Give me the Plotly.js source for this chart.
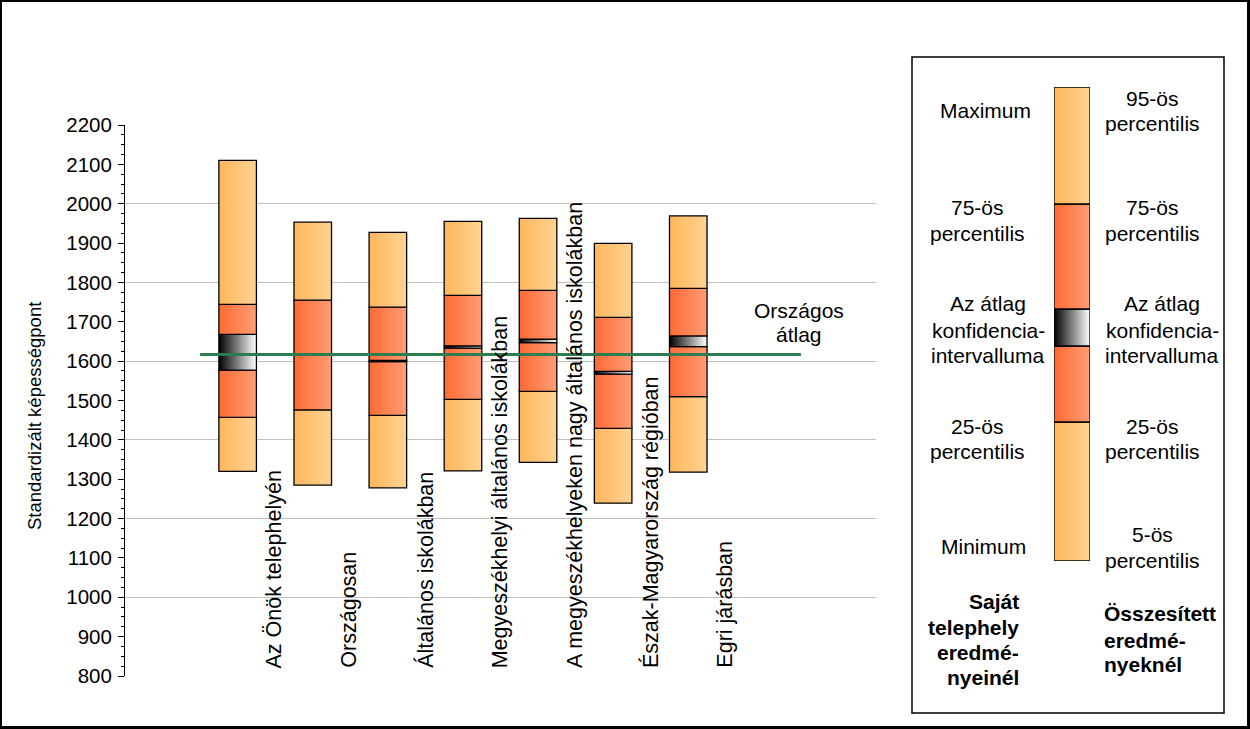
<!DOCTYPE html>
<html>
<head>
<meta charset="utf-8">
<script src="https://cdn.plot.ly/plotly-3.0.1.min.js"></script>
<style>
  body { margin: 0; background: #fff; }
  #wrap { position: relative; width: 1250px; height: 729px; }
  #chart { width: 1250px; height: 729px; }
  #frame { position: absolute; left: 0; top: 0; width: 1250px; height: 729px; box-sizing: border-box;
           border: 2px solid #000; border-right-width: 3px; border-bottom-width: 3px; pointer-events: none; }
</style>
</head>
<body>
<div id="wrap">
  <div id="chart"></div>
  <div id="frame"></div>
</div>
<script>
// ---------------- DATA ----------------
const categories = [
  "Az Önök telephelyén",
  "Országosan",
  "Általános iskolákban",
  "Megyeszékhelyi általános iskolákban",
  "A megyeszékhelyeken nagy általános iskolákban",
  "Észak-Magyarország régióban",
  "Egri járásban"
];
const minVals  = [1320, 1285, 1278, 1321, 1343, 1239, 1318];
const p25Vals  = [1457, 1476, 1462, 1503, 1523, 1429, 1510];
const ciLow    = [1577, 1615, 1599, 1633, 1647, 1567, 1637];
const ciHigh   = [1668, 1619, 1602, 1639, 1656, 1574, 1664];
const p75Vals  = [1744, 1755, 1737, 1767, 1780, 1711, 1785];
const maxVals  = [2110, 1953, 1927, 1955, 1963, 1899, 1969];
const nationalAvg = 1617;
const nationalLineX = [-0.5, 7.5];
const yTitle = "Standardizált képességpont";

// legend (schematic bar) boundaries, bottom to top
const legendBounds = [0, 139, 215, 252, 357, 474];

// legend text lines: [text, x centre/edge px, y px]
const legLeftLines = [
  ["Maximum", 986, 110.7],
  ["75-ös", 977, 207.5], ["percentilis", 977, 233],
  ["Az átlag", 988, 304], ["konfidencia-", 988, 330], ["intervalluma", 988, 355],
  ["25-ös", 977, 426], ["percentilis", 977, 451],
  ["Minimum", 983, 546.6]
];
const legRightLines = [
  ["95-ös", 1152, 98.3], ["percentilis", 1152, 124],
  ["75-ös", 1152, 207.5], ["percentilis", 1152, 233],
  ["Az átlag", 1162, 304], ["konfidencia-", 1162, 330], ["intervalluma", 1162, 355],
  ["25-ös", 1152, 426], ["percentilis", 1152, 451],
  ["5-ös", 1152, 534], ["percentilis", 1152, 560]
];
const legBoldLeft = [["Saját", 601], ["telephely", 627], ["eredmé-", 652], ["nyeinél", 677]];
const legBoldRight = [["Összesített", 613], ["eredmé-", 640], ["nyeknél", 664]];

const FONT = "Liberation Sans, Arial, sans-serif";

// ---------------- TRACES ----------------
const xPos = categories.map((c, i) => i);
const segDefs = [
  {lo: minVals, hi: p25Vals, kind: "Y", color: "#ffc275"},
  {lo: p25Vals, hi: ciLow,   kind: "R", color: "#ff8150"},
  {lo: ciLow,   hi: ciHigh,  kind: "C", color: "#777777"},
  {lo: ciHigh,  hi: p75Vals, kind: "R", color: "#ff8150"},
  {lo: p75Vals, hi: maxVals, kind: "Y", color: "#ffc275"}
];
const data = [];
segDefs.forEach(s => {
  data.push({
    type: "bar", x: xPos, base: s.lo, y: s.hi.map((v, i) => v - s.lo[i]),
    width: 0.5, name: "seg" + s.kind,
    marker: {color: s.color, line: {color: "#000", width: 1.3}},
    hoverinfo: "skip", showlegend: false, xaxis: "x", yaxis: "y"
  });
});
// legend bar
const legKinds = ["Y", "R", "C", "R", "Y"];
const legColors = {Y: "#ffc275", R: "#ff8150", C: "#777777"};
legKinds.forEach((k, i) => {
  data.push({
    type: "bar", x: [0], base: [legendBounds[i]], y: [legendBounds[i + 1] - legendBounds[i]],
    width: 1, name: "seg" + k,
    marker: {color: legColors[k], line: {color: "#000", width: 1.3}},
    hoverinfo: "skip", showlegend: false, xaxis: "x2", yaxis: "y3"
  });
});
// national average line (on overlay axis so it sits above the bars)
data.push({
  type: "scatter", mode: "lines", x: nationalLineX, y: nationalLineX.map(() => nationalAvg),
  line: {color: "#2e7d4f", width: 3}, hoverinfo: "skip", showlegend: false,
  xaxis: "x", yaxis: "y2"
});

// ---------------- LAYOUT ----------------
const W = 1250, H = 729;
const px = x => x / W;
const py = y => (H - y) / H;

const annotations = [];
categories.forEach((c, i) => {
  annotations.push({
    text: c, x: i + 0.49, y: 815, xref: "x", yref: "y", textangle: -90,
    xanchor: "center", yanchor: "bottom", showarrow: false,
    font: {family: FONT, size: 21.5, color: "#000"}
  });
});
annotations.push({
  text: "Országos", x: 7.47, y: 1728, xref: "x", yref: "y", showarrow: false,
  xanchor: "center", yanchor: "middle", font: {family: FONT, size: 21, color: "#000"}
});
annotations.push({
  text: "átlag", x: 7.47, y: 1668, xref: "x", yref: "y", showarrow: false,
  xanchor: "center", yanchor: "middle", font: {family: FONT, size: 21, color: "#000"}
});
annotations.push({
  text: yTitle, x: px(34), y: py(416), xref: "paper", yref: "paper", textangle: -90,
  xanchor: "center", yanchor: "middle", showarrow: false,
  font: {family: FONT, size: 18.5, color: "#000"}
});
legLeftLines.concat(legRightLines).forEach(o => annotations.push({
  text: o[0], x: px(o[1]), y: py(o[2]), xref: "paper", yref: "paper",
  xanchor: "center", yanchor: "middle", showarrow: false,
  font: {family: FONT, size: 21, color: "#000"}
}));
legBoldLeft.forEach(o => annotations.push({
  text: "<b>" + o[0] + "</b>", x: px(1021), y: py(o[1]), xref: "paper", yref: "paper",
  xanchor: "right", yanchor: "middle", showarrow: false,
  font: {family: FONT, size: 21, color: "#000"}
}));
legBoldRight.forEach(o => annotations.push({
  text: "<b>" + o[0] + "</b>", x: px(1102), y: py(o[1]), xref: "paper", yref: "paper",
  xanchor: "left", yanchor: "middle", showarrow: false,
  font: {family: FONT, size: 21, color: "#000"}
}));

const hiddenAxis = {showgrid: false, zeroline: false, showticklabels: false, showline: false, ticks: "", fixedrange: true};

const layout = {
  width: W, height: H,
  margin: {l: 0, r: 0, t: 0, b: 0, pad: 0},
  paper_bgcolor: "#fff", plot_bgcolor: "rgba(0,0,0,0)",
  barmode: "overlay", showlegend: false,
  font: {family: FONT, color: "#000"},
  xaxis: Object.assign({}, hiddenAxis, {domain: [px(125), px(876)], range: [-1.5, 8.5], anchor: "y"}),
  yaxis: {
    domain: [py(676), py(125)], range: [800, 2200], anchor: "x", automargin: false,
    tick0: 800, dtick: 100, ticks: "outside", ticklen: 6, tickwidth: 1, tickcolor: "#000",
    ticklabelstandoff: 2,
    minor: {dtick: 25, tick0: 800, ticks: "outside", ticklen: 3.5, tickwidth: 1, tickcolor: "#000", showgrid: false},
    showline: true, linecolor: "#000", linewidth: 1, showgrid: false, zeroline: false,
    tickfont: {family: FONT, size: 20.5, color: "#000"}, fixedrange: true
  },
  yaxis2: {
    overlaying: "y", anchor: "x", side: "left", range: [800, 2200], tick0: 800, dtick: 200,
    showgrid: true, gridcolor: "#c0c0c0", gridwidth: 1, zeroline: false, showline: false,
    showticklabels: false, ticks: "", automargin: false, fixedrange: true
  },
  xaxis2: Object.assign({}, hiddenAxis, {domain: [px(1054), px(1090)], range: [-0.5, 0.5], anchor: "y3"}),
  yaxis3: Object.assign({}, hiddenAxis, {domain: [py(561), py(87)], range: [0, 474], anchor: "x2"}),
  shapes: [{
    type: "rect", xref: "paper", yref: "paper",
    x0: px(912), x1: px(1224), y0: py(713), y1: py(57),
    line: {color: "#000", width: 1.5}, fillcolor: "rgba(0,0,0,0)"
  }],
  annotations: annotations
};

const gd = document.getElementById("chart");
Plotly.newPlot(gd, data, layout, {staticPlot: true, displayModeBar: false}).then(function () {
  const ns = "http://www.w3.org/2000/svg";
  const svg = gd.querySelector("svg.main-svg");
  const defs = document.createElementNS(ns, "defs");
  function grad(id, stops) {
    const g = document.createElementNS(ns, "linearGradient");
    g.setAttribute("id", id);
    g.setAttribute("x1", "0"); g.setAttribute("y1", "0");
    g.setAttribute("x2", "1"); g.setAttribute("y2", "0");
    stops.forEach(s => {
      const st = document.createElementNS(ns, "stop");
      st.setAttribute("offset", s[0]);
      st.setAttribute("stop-color", s[1]);
      g.appendChild(st);
    });
    defs.appendChild(g);
  }
  grad("gradY", [["0", "#ffb65a"], ["1", "#ffd393"]]);
  grad("gradR", [["0", "#ff6a33"], ["1", "#ff9d76"]]);
  grad("gradC", [["0", "#000000"], ["0.95", "#f4f4f4"], ["1", "#f8f8f8"]]);
  svg.insertBefore(defs, svg.firstChild);
  const map = {segY: "gradY", segR: "gradR", segC: "gradC"};
  gd.querySelectorAll(".barlayer .trace").forEach(function (t) {
    const d = t.__data__;
    const tr = d && d[0] && d[0].trace;
    if (!tr || !map[tr.name]) return;
    t.querySelectorAll("path").forEach(function (p) {
      p.style.fill = "url(#" + map[tr.name] + ")";
    });
  });
});
</script>
</body>
</html>
